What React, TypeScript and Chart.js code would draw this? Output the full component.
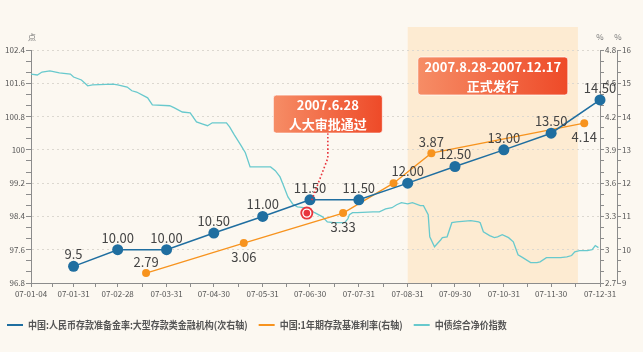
import React, { useEffect, useRef } from 'react';
import { Chart, registerables } from 'chart.js';

Chart.register(...registerables);

// ---------- DATA ----------
// x values are day offsets from 2007-01-04
const monthTickDays = [0, 27, 55, 86, 116, 147, 177, 208, 239, 269, 300, 330, 361];
const monthTickLabels = ['07-01-04', '07-01-31', '07-02-28', '07-03-31', '07-04-30', '07-05-31', '07-06-30', '07-07-31', '07-08-31', '07-09-30', '07-10-31', '07-11-30', '07-12-31'];

const leftTicks = [96.8, 97.6, 98.4, 99.2, 100, 100.8, 101.6, 102.4];
const rateTicks = [2.7, 3, 3.3, 3.6, 3.9, 4.2, 4.5, 4.8];
const ratioTicks = [9, 10, 11, 12, 13, 14, 15, 16];

const ratioDays = [27, 55, 86, 116, 147, 177, 208, 239, 269, 300, 330, 361];
const ratioValues = [9.5, 10, 10, 10.5, 11, 11.5, 11.5, 12, 12.5, 13, 13.5, 14.5];
const ratioLabels = ['9.5', '10.00', '10.00', '10.50', '11.00', '11.50', '11.50', '12.00', '12.50', '13.00', '13.50', '14.50'];

const rateDays = [73, 135, 198, 230, 254, 351];
const rateValues = [2.79, 3.06, 3.33, 3.6, 3.87, 4.14];
const rateLabels = ['2.79', '3.06', '3.33', '', '3.87', '4.14'];

const bondDays = [0, 4, 7, 12, 18, 25, 27, 32, 36, 39, 52, 55, 61, 64, 67, 74, 77, 88, 91, 96, 101, 105, 109, 112, 115, 124, 126, 129, 133, 136, 139, 142, 152, 155, 158, 160, 163, 166, 169, 173, 177, 180, 185, 188, 192, 199, 201, 202, 204, 207, 217, 221, 225, 229, 232, 235, 239, 242, 247, 249, 252, 253, 256, 260, 261, 264, 267, 270, 279, 284, 285, 287, 291, 294, 296, 299, 303, 306, 309, 312, 317, 321, 323, 327, 331, 336, 340, 343, 345, 348, 353, 356, 358, 360];
const bondValues = [101.82, 101.8, 101.87, 101.9, 101.85, 101.82, 101.75, 101.68, 101.54, 101.56, 101.58, 101.56, 101.51, 101.42, 101.39, 101.25, 101.08, 101.06, 101.01, 100.91, 100.89, 100.67, 100.62, 100.58, 100.65, 100.65, 100.55, 100.36, 100.12, 99.93, 99.59, 99.59, 99.59, 99.5, 99.35, 99.16, 98.87, 98.7, 98.63, 98.61, 98.56, 98.49, 98.39, 98.27, 98.25, 98.25, 98.34, 98.44, 98.49, 98.49, 98.51, 98.51, 98.58, 98.61, 98.68, 98.73, 98.7, 98.73, 98.66, 98.66, 98.44, 97.91, 97.67, 97.84, 97.89, 97.91, 98.25, 98.27, 98.3, 98.27, 98.25, 98.03, 97.94, 97.89, 97.91, 97.96, 97.89, 97.79, 97.48, 97.41, 97.29, 97.29, 97.31, 97.41, 97.41, 97.41, 97.43, 97.46, 97.55, 97.58, 97.58, 97.6, 97.7, 97.65];

const approvalDay = 175; // 2007-06-28
const approvalValue = 98.48;
const approvalText = ['2007.6.28', '人大审批通过'];
const issueStartDay = 239;
const issueEndDay = 347;
const issueText = ['2007.8.28-2007.12.17', '正式发行'];

const seriesNames = ['中国:人民币存款准备金率:大型存款类金融机构(次右轴)', '中国:1年期存款基准利率(右轴)', '中债综合净价指数'];

// ---------- STYLE ----------
const BLUE = '#1f6ea0';
const ORANGE = '#f7931e';
const TEAL = '#68c9cd';
const AXIS = '#8c8c8c';
const TICK_TEXT = '#555';
const FONT = '"Noto Sans CJK SC", "Noto Sans", sans-serif';
const rateLabelSide = ['above', 'below', 'below', 'above', 'above', 'below'];

function withMinor(majors: number[], parts: number): number[] {
  const out: number[] = [];
  for (let i = 0; i < majors.length; i++) {
    out.push(majors[i]);
    if (i < majors.length - 1) {
      const step = (majors[i + 1] - majors[i]) / parts;
      for (let k = 1; k < parts; k++) out.push(majors[i] + step * k);
    }
  }
  return out;
}
const findMajor = (arr: number[], v: number) => arr.find((a) => Math.abs(a - v) < 1e-6);

function yAxis(majors: number[], position: 'left' | 'right', width: number, extra: any) {
  return {
    type: 'linear',
    position,
    min: majors[0],
    max: majors[majors.length - 1],
    afterBuildTicks: (s: any) => {
      s.ticks = withMinor(majors, 3).map((v) => ({ value: v }));
    },
    afterFit: (s: any) => {
      s.width = width;
    },
    ticks: {
      padding: 1,
      font: { size: 8, family: FONT },
      color: TICK_TEXT,
      autoSkip: false,
      callback: (v: number) => {
        const m = findMajor(majors, v);
        return m === undefined ? '' : String(m);
      },
    },
    border: { display: true, color: AXIS, width: 1 },
    ...extra,
  };
}

const bgPlugin = {
  id: 'bgShade',
  beforeDraw(chart: any) {
    const { ctx, chartArea, scales } = chart;
    ctx.save();
    ctx.fillStyle = '#fcf8f1';
    ctx.fillRect(0, 0, chart.width, chart.height);
    const x1 = scales.x.getPixelForValue(issueStartDay);
    const x2 = scales.x.getPixelForValue(issueEndDay);
    ctx.fillStyle = '#fdebd2';
    ctx.fillRect(x1, chartArea.top - 23, x2 - x1, chartArea.bottom - chartArea.top + 23);
    ctx.restore();
  },
};

function roundRect(ctx: CanvasRenderingContext2D, x: number, y: number, w: number, h: number, r: number) {
  ctx.beginPath();
  ctx.moveTo(x + r, y);
  ctx.lineTo(x + w - r, y);
  ctx.quadraticCurveTo(x + w, y, x + w, y + r);
  ctx.lineTo(x + w, y + h - r);
  ctx.quadraticCurveTo(x + w, y + h, x + w - r, y + h);
  ctx.lineTo(x + r, y + h);
  ctx.quadraticCurveTo(x, y + h, x, y + h - r);
  ctx.lineTo(x, y + r);
  ctx.quadraticCurveTo(x, y, x + r, y);
  ctx.closePath();
}

function drawBox(ctx: CanvasRenderingContext2D, cx: number, top: number, w: number, h: number, lines: string[]) {
  const x = cx - w / 2;
  const g = ctx.createLinearGradient(x, 0, x + w, 0);
  g.addColorStop(0, '#f68d66');
  g.addColorStop(1, '#ee4a28');
  roundRect(ctx, x, top, w, h, 3);
  ctx.fillStyle = g;
  ctx.fill();
  ctx.strokeStyle = 'rgba(255,255,255,0.7)';
  ctx.lineWidth = 1;
  ctx.stroke();
  ctx.fillStyle = '#ffffff';
  ctx.font = 'bold 13px ' + FONT;
  ctx.textAlign = 'center';
  ctx.textBaseline = 'middle';
  ctx.fillText(lines[0], cx, top + 10);
  ctx.fillText(lines[1], cx, top + 29);
}

const overlayPlugin = {
  id: 'overlay',
  afterDatasetsDraw(chart: any) {
    const { ctx, scales, chartArea } = chart;
    ctx.save();
    // point labels
    ctx.font = '13px ' + FONT;
    ctx.fillStyle = '#444';
    ctx.textAlign = 'center';
    ctx.textBaseline = 'middle';
    chart.getDatasetMeta(0).data.forEach((p: any, i: number) => {
      ctx.fillText(ratioLabels[i], p.x, p.y - 12);
    });
    chart.getDatasetMeta(1).data.forEach((p: any, i: number) => {
      if (!rateLabels[i]) return;
      const dy = rateLabelSide[i] === 'above' ? -11 : 14;
      ctx.fillText(rateLabels[i], p.x, p.y + dy);
    });

    // approval marker
    const mx = scales.x.getPixelForValue(approvalDay);
    const my = scales.yL.getPixelForValue(approvalValue);
    const bx = mx + 21;
    const boxBottom = my - 80;
    ctx.strokeStyle = '#e8343c';
    ctx.lineWidth = 1.6;
    ctx.setLineDash([1.6, 2.2]);
    ctx.beginPath();
    ctx.moveTo(bx, boxBottom);
    ctx.lineTo(bx, boxBottom + 25);
    ctx.lineTo(mx + 5, my - 13);
    ctx.stroke();
    ctx.setLineDash([]);
    ctx.fillStyle = '#e8343c';
    ctx.beginPath();
    ctx.arc(mx, my, 6.5, 0, Math.PI * 2);
    ctx.fill();
    ctx.strokeStyle = '#ffffff';
    ctx.lineWidth = 1.3;
    ctx.beginPath();
    ctx.arc(mx, my, 4, 0, Math.PI * 2);
    ctx.stroke();

    drawBox(ctx, bx, boxBottom - 38, 109, 38, approvalText);
    const sx = (scales.x.getPixelForValue(issueStartDay) + scales.x.getPixelForValue(issueEndDay)) / 2;
    drawBox(ctx, sx, chartArea.top + 7, 150, 38, issueText);
    ctx.restore();
  },
  afterDraw(chart: any) {
    const { ctx, scales, chartArea } = chart;
    ctx.save();
    // axis units
    ctx.font = '8px ' + FONT;
    ctx.fillStyle = '#777';
    ctx.textAlign = 'center';
    ctx.textBaseline = 'middle';
    ctx.fillText('点', scales.yL.right + 1, chartArea.top - 13);
    ctx.fillText('%', scales.yR1.left, chartArea.top - 13);
    ctx.fillText('%', scales.yR2.left + 1, chartArea.top - 13);

    // legend
    const colors = [BLUE, ORANGE, TEAL];
    const sx = 0.9;
    ctx.font = 'bold 10px ' + FONT;
    ctx.textAlign = 'left';
    let x = 7;
    const y = 325;
    seriesNames.forEach((name, i) => {
      ctx.strokeStyle = colors[i];
      ctx.lineWidth = 2;
      ctx.beginPath();
      ctx.moveTo(x, y);
      ctx.lineTo(x + 16, y);
      ctx.stroke();
      ctx.fillStyle = '#555';
      ctx.save();
      ctx.translate(x + 21, y);
      ctx.scale(sx, 1);
      ctx.fillText(name, 0, 0);
      ctx.restore();
      x += 21 + ctx.measureText(name).width * sx + 11;
    });
    ctx.restore();
  },
};

export default function App() {
  const ref = useRef<HTMLCanvasElement>(null);
  useEffect(() => {
    const chart = new Chart(ref.current as HTMLCanvasElement, {
      type: 'line',
      data: {
        datasets: [
          {
            label: seriesNames[0],
            data: ratioDays.map((d, i) => ({ x: d, y: ratioValues[i] })),
            yAxisID: 'yR2',
            borderColor: BLUE,
            backgroundColor: BLUE,
            borderWidth: 1.5,
            pointRadius: 5.5,
            pointBorderWidth: 0,
            pointHoverRadius: 5.5,
            order: 1,
            clip: false,
          },
          {
            label: seriesNames[1],
            data: rateDays.map((d, i) => ({ x: d, y: rateValues[i] })),
            yAxisID: 'yR1',
            borderColor: ORANGE,
            backgroundColor: ORANGE,
            borderWidth: 1.3,
            pointRadius: 4,
            pointBorderWidth: 0,
            pointHoverRadius: 4,
            order: 2,
            clip: false,
          },
          {
            label: seriesNames[2],
            data: bondDays.map((d, i) => ({ x: d, y: bondValues[i] })),
            yAxisID: 'yL',
            borderColor: TEAL,
            backgroundColor: TEAL,
            borderWidth: 1.3,
            pointRadius: 0,
            pointHoverRadius: 0,
            order: 3,
          },
        ],
      } as any,
      options: {
        animation: false,
        responsive: false,
        events: [],
        layout: { padding: { top: 50, left: 0, right: 0, bottom: 0 } },
        plugins: { legend: { display: false }, tooltip: { enabled: false } },
        scales: {
          x: {
            type: 'linear',
            min: 0,
            max: 361,
            afterBuildTicks: (s: any) => {
              s.ticks = withMinor(monthTickDays, 2).map((v) => ({ value: v }));
            },
            afterFit: (s: any) => {
              s.height = 69;
            },
            ticks: {
              autoSkip: false,
              maxRotation: 0,
              minRotation: 0,
              padding: 2,
              font: { size: 8, family: FONT },
              color: TICK_TEXT,
              callback: (v: number) => {
                const i = monthTickDays.indexOf(v);
                return i >= 0 ? monthTickLabels[i] : '';
              },
            },
            grid: { drawOnChartArea: false, drawTicks: true, tickLength: 4, tickColor: AXIS, color: AXIS },
            border: { display: true, color: AXIS, width: 1 },
          },
          yL: yAxis(leftTicks, 'left', 31, {
            grid: {
              drawOnChartArea: true,
              drawTicks: true,
              tickLength: 5,
              tickColor: AXIS,
              lineWidth: 1,
              color: (c: any) => (c.tick && findMajor(leftTicks, c.tick.value) !== undefined ? '#dcd8d0' : 'rgba(0,0,0,0)'),
            },
            border: { display: true, color: AXIS, width: 1, dash: [2, 3] },
          }),
          yR1: yAxis(rateTicks, 'right', 17, {
            weight: 1,
            grid: { drawOnChartArea: false, drawTicks: true, tickLength: 4, tickColor: AXIS, color: AXIS },
          }),
          yR2: yAxis(ratioTicks, 'right', 26, {
            weight: 2,
            grid: { drawOnChartArea: false, drawTicks: true, tickLength: 4, tickColor: AXIS, color: AXIS },
          }),
        },
      } as any,
      plugins: [bgPlugin, overlayPlugin],
    });
    return () => chart.destroy();
  }, []);

  return (
    <div style={{ position: 'fixed', left: 0, top: 0, width: 643, height: 352 }}>
      <canvas ref={ref} width={643} height={352} style={{ display: 'block' }} />
    </div>
  );
}
